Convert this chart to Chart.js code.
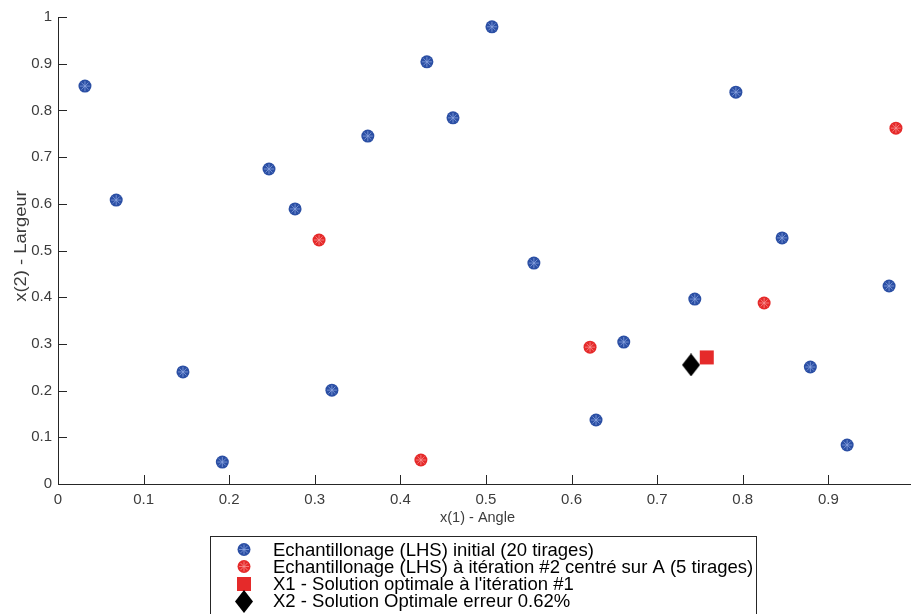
<!DOCTYPE html>
<html><head><meta charset="utf-8">
<script src="https://cdn.jsdelivr.net/npm/chart.js@4/dist/chart.umd.min.js"></script>
<style>html,body{margin:0;padding:0;background:#fff;overflow:hidden}#wrap{width:911px;height:614px;position:relative}</style>
</head><body><div id="wrap"><canvas id="c" width="911" height="614"></canvas></div>
<script>
// ---- data ----
const initialX = [0.0315,0.068,0.146,0.192,0.2465,0.277,0.320,0.362,0.431,0.4615,0.507,0.556,0.6286,0.661,0.744,0.792,0.846,0.879,0.922,0.971];
const initialY = [0.852,0.608,0.240,0.047,0.6745,0.589,0.201,0.745,0.904,0.784,0.979,0.473,0.137,0.304,0.396,0.839,0.527,0.2505,0.0835,0.424];
const iter2X = [0.305,0.424,0.6216,0.825,0.979];
const iter2Y = [0.5225,0.0514,0.293,0.3876,0.762];
const x1X = [0.758];
const x1Y = [0.271];
const x2X = [0.7396];
const x2Y = [0.255];
const xTickValues = [0,0.1,0.2,0.3,0.4,0.5,0.6,0.7,0.8,0.9];
const xTickLabels = ['0','0.1','0.2','0.3','0.4','0.5','0.6','0.7','0.8','0.9'];
const yTickValues = [0,0.1,0.2,0.3,0.4,0.5,0.6,0.7,0.8,0.9,1];
const yTickLabels = ['0','0.1','0.2','0.3','0.4','0.5','0.6','0.7','0.8','0.9','1'];
const legendLabels = [
  'Echantillonage (LHS) initial (20 tirages)',
  'Echantillonage (LHS) à itération #2 centré sur A (5 tirages)',
  "X1 - Solution optimale à l'itération #1",
  'X2 - Solution Optimale erreur 0.62%'
];
const xTitle = 'x(1) - Angle';
const yTitle = 'x(2) - Largeur';

// ---- styles ----
const BLUE = '#2b4fa4', BLUE_STAR = 'rgba(140,165,225,0.75)';
const RED = '#e52a2a', RED_STAR = 'rgba(250,150,150,0.75)';
const AXIS = '#262626', TICKTXT = '#3c3c3c';
const FONT = '"Liberation Sans", Arial, Helvetica, sans-serif';

function pts(xs, ys){ return xs.map((v,i)=>({x:v, y:ys[i]})); }
function diamondImg(w,h){
  const c=document.createElement('canvas'); c.width=w; c.height=h;
  const g=c.getContext('2d'); g.fillStyle='#000'; g.beginPath();
  g.moveTo(w/2,0); g.lineTo(w,h/2); g.lineTo(w/2,h); g.lineTo(0,h/2); g.closePath(); g.fill();
  return c;
}
const DIAMOND = diamondImg(18,23);

function drawCircleMarker(ctx, x, y, fill, star){
  ctx.fillStyle=fill; ctx.beginPath(); ctx.arc(x,y,6.5,0,Math.PI*2); ctx.fill();
  ctx.strokeStyle=star; ctx.lineWidth=1; ctx.beginPath();
  for(let k=0;k<4;k++){const a=k*Math.PI/4; ctx.moveTo(x-5*Math.cos(a),y-5*Math.sin(a)); ctx.lineTo(x+5*Math.cos(a),y+5*Math.sin(a));}
  ctx.stroke();
}

const decor = {
  id:'decor',
  beforeDatasetsDraw(chart){
    const {ctx, chartArea:a, scales:{x,y}} = chart;
    ctx.save(); ctx.strokeStyle=AXIS; ctx.lineWidth=1;
    xTickValues.forEach(v=>{const px=Math.round(x.getPixelForValue(v))+0.5; ctx.beginPath(); ctx.moveTo(px,a.bottom); ctx.lineTo(px,a.bottom-9); ctx.stroke();});
    yTickValues.forEach(v=>{const py=Math.round(y.getPixelForValue(v))+0.5; ctx.beginPath(); ctx.moveTo(a.left,py); ctx.lineTo(a.left+9,py); ctx.stroke();});
    ctx.restore();
  },
  afterDraw(chart){
    const ctx = chart.ctx;
    ctx.save();
    // axis titles
    ctx.fillStyle=TICKTXT; ctx.font='14.5px '+FONT; ctx.textAlign='center'; ctx.textBaseline='alphabetic';
    ctx.fillText(xTitle, 477.5, 521.5);
    ctx.font='16px '+FONT;
    ctx.translate(26, 246); ctx.rotate(-Math.PI/2); ctx.scale(1.15,1); ctx.fillText(yTitle, 0, 0);
    ctx.setTransform(1,0,0,1,0,0);
    // legend box
    ctx.fillStyle='#fff'; ctx.fillRect(211,537,546,80);
    ctx.strokeStyle=AXIS; ctx.lineWidth=1; ctx.strokeRect(210.5,536.5,546,80);
    const mx=244, rows=[549.5,566.5,584,601.5];
    drawCircleMarker(ctx,mx,rows[0],BLUE,BLUE_STAR);
    drawCircleMarker(ctx,mx,rows[1],RED,RED_STAR);
    ctx.fillStyle=RED; ctx.fillRect(mx-7,rows[2]-7,14,14);
    ctx.drawImage(DIAMOND, mx-9, rows[3]-11.5);
    ctx.fillStyle='#000'; ctx.font='18.5px '+FONT; ctx.textAlign='left'; ctx.textBaseline='alphabetic';
    const base=[556,573,590,607];
    legendLabels.forEach((t,i)=>ctx.fillText(t,273,base[i]));
    ctx.restore();
  }
};

new Chart(document.getElementById('c'), {
  type:'scatter',
  data:{datasets:[
    {label:legendLabels[3], data:pts(x2X,x2Y), pointStyle:DIAMOND, pointRadius:10, order:1},
    {label:legendLabels[2], data:pts(x1X,x1Y), pointStyle:'rect', pointRadius:9.9, backgroundColor:RED, borderColor:RED, borderWidth:0, order:2},
    {label:'s2', data:pts(iter2X,iter2Y), pointStyle:'star', pointRadius:5, borderColor:RED_STAR, backgroundColor:RED_STAR, borderWidth:1, order:3},
    {label:legendLabels[1], data:pts(iter2X,iter2Y), pointStyle:'circle', pointRadius:6.5, backgroundColor:RED, borderColor:RED, borderWidth:0, order:4},
    {label:'s1', data:pts(initialX,initialY), pointStyle:'star', pointRadius:5, borderColor:BLUE_STAR, backgroundColor:BLUE_STAR, borderWidth:1, order:5},
    {label:legendLabels[0], data:pts(initialX,initialY), pointStyle:'circle', pointRadius:6.5, backgroundColor:BLUE, borderColor:BLUE, borderWidth:0, order:6}
  ]},
  options:{
    responsive:false, animation:false, devicePixelRatio:1,
    layout:{autoPadding:false, padding:{top:17,left:0,right:0,bottom:0}},
    plugins:{legend:{display:false}, tooltip:{enabled:false}},
    scales:{
      x:{type:'linear', min:0, max:0.9966,
        afterBuildTicks:(s)=>{s.ticks=xTickValues.map(v=>({value:v}));},
        afterFit:(s)=>{s.height=130; s.paddingRight=0; s.paddingLeft=0;},
        grid:{display:false, drawTicks:false},
        border:{display:true, color:AXIS, width:1},
        ticks:{autoSkip:false, maxRotation:0, padding:7, color:TICKTXT, font:{family:FONT,size:15}, callback:(v,i)=>xTickLabels[i]}
      },
      y:{type:'linear', min:0, max:1,
        afterBuildTicks:(s)=>{s.ticks=yTickValues.map(v=>({value:v}));},
        afterFit:(s)=>{s.width=58; s.paddingTop=0; s.paddingBottom=0;},
        grid:{display:false, drawTicks:false},
        border:{display:true, color:AXIS, width:1},
        ticks:{autoSkip:false, padding:6, color:TICKTXT, font:{family:FONT,size:15}, callback:(v,i)=>yTickLabels[i]}
      }
    }
  },
  plugins:[decor]
});
</script></body></html>
